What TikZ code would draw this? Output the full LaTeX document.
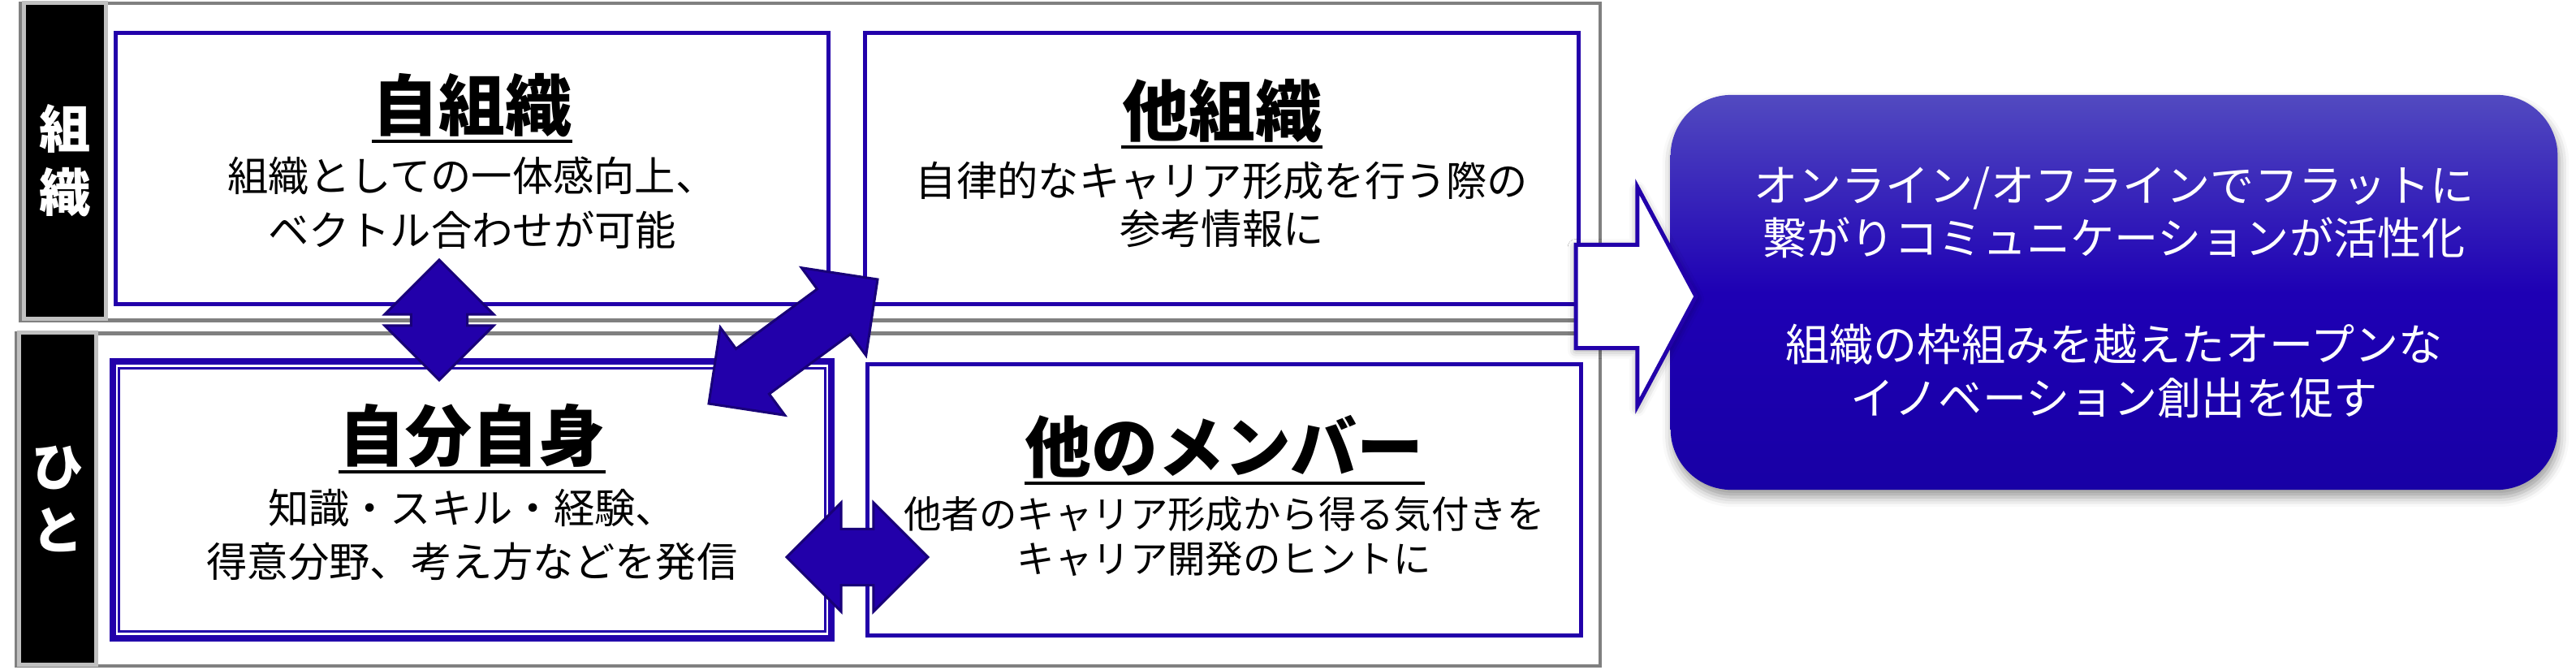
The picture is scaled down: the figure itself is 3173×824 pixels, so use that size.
\documentclass[tikz,border=0pt]{standalone}
\usepackage{fontspec}
\setmainfont{Noto Sans CJK JP}
\usepackage{tikz}
\usetikzlibrary{positioning, calc, shadows.blur}
\definecolor{boxblue}{RGB}{34,0,170}
\definecolor{arrowline}{RGB}{24,0,120}
\definecolor{framegray}{RGB}{128,128,128}
\definecolor{silver}{RGB}{192,192,192}
\definecolor{restop}{RGB}{82,74,192}
\definecolor{resmid}{RGB}{30,0,180}
\definecolor{resbot}{RGB}{24,0,165}
\tikzstyle{box} = [rectangle, draw=boxblue, line width=0.05cm, fill=white, minimum width=8.78cm, minimum height=3.34cm]
\tikzstyle{rowframe} = [draw=framegray, line width=0.045cm]
\tikzstyle{tag} = [rectangle, draw=silver, line width=0.05cm, fill=black, text=white, inner sep=0pt, align=center, font=\bfseries\fontsize{18}{22.2}\selectfont]
\tikzstyle{ttl} = [inner sep=0pt, font=\bfseries\fontsize{23.3}{28}\selectfont]
\tikzstyle{ul} = [draw, line width=0.04cm]
\tikzstyle{thinline} = [draw=boxblue, line width=0.03cm]
\tikzstyle{barrow} = [fill=boxblue, draw=arrowline, line width=0.03cm, line join=miter]
\tikzstyle{warrow} = [fill=white, draw=boxblue, line width=0.05cm, line join=miter]
\tikzset{body/.style={inner sep=0pt, align=center, font=\fontsize{14.3}{#1}\selectfont}, body/.default=17.5pt}
\newcommand{\arrhead}{0.67cm}
\newcommand{\arrwide}{0.67cm}
\newcommand{\arrshaft}{0.345cm}
% double block arrow between two points
\newcommand{\dblarrow}[2]{%
  \path [barrow] (#1)
    -- ($(#1)!\arrhead!(#2)!\arrwide!90:(#2)$)
    -- ($(#1)!\arrhead!(#2)!\arrshaft!90:(#2)$)
    -- ($(#2)!\arrhead!(#1)!\arrshaft!-90:(#1)$)
    -- ($(#2)!\arrhead!(#1)!\arrwide!-90:(#1)$)
    -- (#2)
    -- ($(#2)!\arrhead!(#1)!\arrwide!90:(#1)$)
    -- ($(#2)!\arrhead!(#1)!\arrshaft!90:(#1)$)
    -- ($(#1)!\arrhead!(#2)!\arrshaft!-90:(#2)$)
    -- ($(#1)!\arrhead!(#2)!\arrwide!-90:(#2)$)
    -- cycle;}
\begin{document}
\begin{tikzpicture}[x=0.01cm, y=-0.01cm, node distance=0.4cm]
    \useasboundingbox (0,0) rectangle (3173,824);

    % rows
    \draw [rowframe] (25,4) rectangle (1971,394.5);
    \draw [rowframe] (20,410.5) rectangle (1971,820);
    \node (orgtag) [tag, minimum width=1.01cm, minimum height=3.885cm] at (80,198) {組\\織};
    \node (peopletag) [tag, minimum width=0.95cm, minimum height=4.085cm] at (71,614) {ひ\\と};

    % boxes
    \node (selforg) [box] at (581.5,207.5) {};
    \node (otherorg) [box, right=0.4cm of selforg] {};
    \node (self) [box, line width=0.08cm, minimum width=8.85cm, minimum height=3.41cm, below=0.64cm of selforg] {};
    \node (members) [box, right=0.38cm of self] {};
    \draw [thinline] ([shift={(0.12cm,-0.125cm)}]self.north west) rectangle ([shift={(-0.12cm,0.125cm)}]self.south east);

    \node (selforgttl) [ttl] at ([yshift=0.775cm]selforg.center) {自組織};
    \node (selforgtxt) [body=19pt] at ([yshift=-0.42cm]selforg.center) {組織としての一体感向上、\\ベクトル合わせが可能};
    \node (otherorgttl) [ttl] at ([yshift=0.71cm]otherorg.center) {他組織};
    \node (otherorgtxt) [body=16.8pt] at ([yshift=-0.44cm]otherorg.center) {自律的なキャリア形成を行う際の\\参考情報に};
    \node (selfttl) [ttl] at ([yshift=0.79cm]self.center) {自分自身};
    \node (selftxt) [body=18.8pt] at ([yshift=-0.425cm]self.center) {知識・スキル・経験、\\得意分野、考え方などを発信};
    \node (membersttl) [ttl] at ([yshift=0.65cm]members.center) {他のメンバー};
    \node (memberstxt) [body=15.6pt, font=\fontsize{13.2}{15.6}\selectfont] at ([yshift=-0.445cm]members.center) {他者のキャリア形成から得る気付きを\\キャリア開発のヒントに};

    \draw [ul] ([yshift=-0.045cm]selforgttl.south west) -- ([yshift=-0.045cm]selforgttl.south east);
    \draw [ul] ([yshift=-0.045cm]otherorgttl.south west) -- ([yshift=-0.045cm]otherorgttl.south east);
    \draw [ul] ([yshift=-0.045cm]selfttl.south west) -- ([yshift=-0.045cm]selfttl.south east);
    \draw [ul] ([yshift=-0.045cm]membersttl.south west) -- ([yshift=-0.045cm]membersttl.south east);

    % result
    \node (result) [rectangle, rounded corners=0.75cm, minimum width=10.92cm, minimum height=4.86cm,
        top color=restop, bottom color=resbot, middle color=resmid, text=white, align=center,
        font=\fontsize{15.4}{18.6}\selectfont,
        blur shadow={shadow xshift=0.02cm, shadow yshift=-0.09cm, shadow blur radius=0.12cm}] at (2604,360)
        {オンライン/オフラインでフラットに\\繋がりコミュニケーションが活性化\\[18.6pt]組織の枠組みを越えたオープンな\\イノベーション創出を促す};

    % arrows
    \coordinate (vtop) at (541,320);
    \coordinate (vbot) at (541,468);
    \coordinate (dlow) at (873,497);
    \coordinate (dhigh) at (1081,344);
    \coordinate (hleft) at (969,686);
    \coordinate (hright) at (1143,686);
    \dblarrow{vtop}{vbot}
    \dblarrow{dlow}{dhigh}
    \dblarrow{hleft}{hright}

    \coordinate (wtail) at (1941,365);
    \coordinate (wtip) at (2089,365);
    \path [warrow, blur shadow={shadow xshift=0cm, shadow yshift=-0.03cm, shadow blur radius=0.1cm}]
        ($(wtail)!0.635cm!90:(wtip)$)
        -- ($(wtip)!0.72cm!(wtail)!0.635cm!-90:(wtail)$)
        -- ($(wtip)!0.72cm!(wtail)!1.345cm!-90:(wtail)$)
        -- (wtip)
        -- ($(wtip)!0.72cm!(wtail)!1.345cm!90:(wtail)$)
        -- ($(wtip)!0.72cm!(wtail)!0.635cm!90:(wtail)$)
        -- ($(wtail)!0.635cm!-90:(wtip)$)
        -- cycle;

\end{tikzpicture}
\end{document}
